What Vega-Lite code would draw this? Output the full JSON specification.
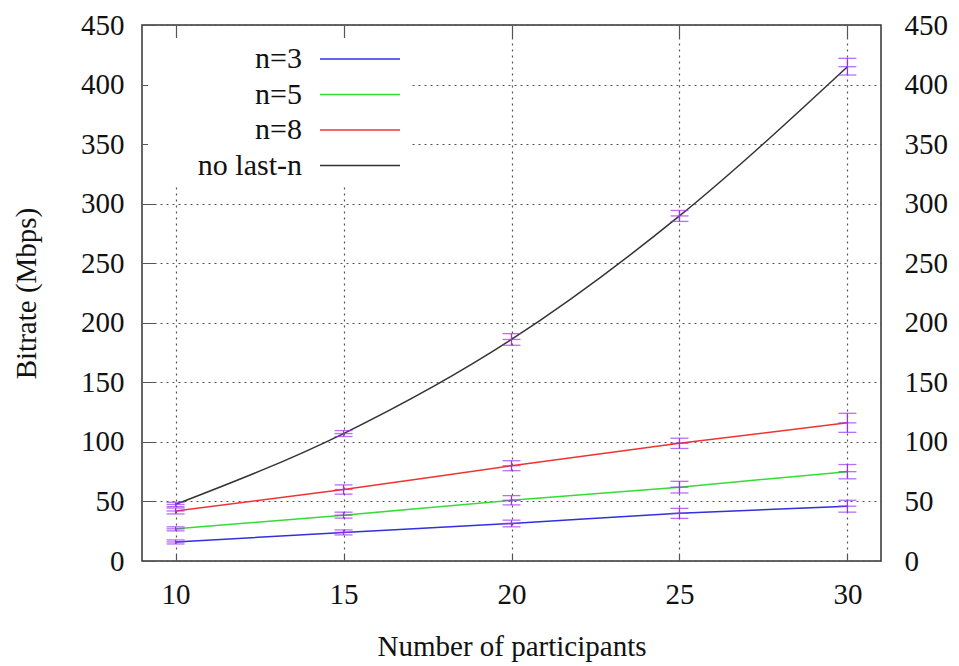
{
  "$schema": "https://vega.github.io/schema/vega-lite/v6.json",
  "autosize": {"type": "none"},
  "padding": {"left": 142, "top": 25, "right": 78, "bottom": 105},
  "width": 739,
  "height": 536,
  "background": "white",
  "config": {
    "font": "Liberation Serif",
    "view": {"stroke": "#333333", "strokeWidth": 1.5},
    "axis": {
      "labelFont": "Liberation Serif",
      "titleFont": "Liberation Serif",
      "labelFontSize": 29,
      "titleFontSize": 29,
      "titleFontWeight": "normal",
      "labelColor": "#111111",
      "titleColor": "#111111",
      "domain": false,
      "ticks": false,
      "gridOpacity": 1
    },
    "legend": {"labelFont": "Liberation Serif"}
  },
  "data": {
    "values": [
      {"series": "n=3", "x": 10, "y": 16, "lo": 14.3, "hi": 17.7},
      {"series": "n=3", "x": 15, "y": 24, "lo": 21.9, "hi": 26.1},
      {"series": "n=3", "x": 20, "y": 31.5, "lo": 28.7, "hi": 34.3},
      {"series": "n=3", "x": 25, "y": 40, "lo": 35.8, "hi": 44.2},
      {"series": "n=3", "x": 30, "y": 46, "lo": 41, "hi": 51},
      {"series": "n=5", "x": 10, "y": 27, "lo": 25.3, "hi": 28.7},
      {"series": "n=5", "x": 15, "y": 38.5, "lo": 36, "hi": 41},
      {"series": "n=5", "x": 20, "y": 51, "lo": 47.1, "hi": 54.9},
      {"series": "n=5", "x": 25, "y": 62, "lo": 57.1, "hi": 66.9},
      {"series": "n=5", "x": 30, "y": 75, "lo": 69, "hi": 81},
      {"series": "n=8", "x": 10, "y": 42, "lo": 39.5, "hi": 44.5},
      {"series": "n=8", "x": 15, "y": 60, "lo": 56.1, "hi": 63.9},
      {"series": "n=8", "x": 20, "y": 80, "lo": 75.8, "hi": 84.2},
      {"series": "n=8", "x": 25, "y": 98.8, "lo": 94.5, "hi": 103.1},
      {"series": "n=8", "x": 30, "y": 116, "lo": 108, "hi": 124},
      {"series": "no last-n", "x": 10, "y": 47.5, "lo": 45.7, "hi": 49.3},
      {"series": "no last-n", "x": 15, "y": 107, "lo": 104.5, "hi": 109.5},
      {"series": "no last-n", "x": 20, "y": 186, "lo": 181.1, "hi": 190.9},
      {"series": "no last-n", "x": 25, "y": 289.7, "lo": 285.1, "hi": 294.3},
      {"series": "no last-n", "x": 30, "y": 415, "lo": 408, "hi": 422}
    ]
  },
  "encoding": {
    "x": {"field": "x", "type": "quantitative", "scale": {"domain": [9, 31], "nice": false, "zero": false}, "axis": null}
  },
  "layer": [
    {
      "mark": {"type": "rule", "opacity": 0},
      "encoding": {
        "x": {"field": "x", "type": "quantitative", "scale": {"domain": [9, 31], "nice": false, "zero": false},
          "axis": {"orient": "bottom", "title": null, "values": [10, 15, 20, 25, 30], "grid": true, "labels": false, "gridColor": "#555555", "gridWidth": 1.2,
            "gridDash": [14,4,2,4,2,4,2,4,2,4,2,4,2,4,2,4,2,4,2,4,2,4,2,4,2,4,2,4,2,4,2,4,2,4,2,4,2,4,2,4,2,4,2,4,2,4,2,4,2,4,2,4,2,4,2,4,2,4,2,4,2,4,2,4,2,4,2,4,2,4,2,4,2,4,2,4,2,4,2,4,2,4,2,4,2,4,2,4,2,4,2,4,2,4,2,4,2,4,2,4,2,4,2,4,2,4,2,4,2,4,2,4,2,4,2,4,2,4,2,4,2,4,2,4,2,4,2,4,2,4,2,4,2,4,2,4,2,4,2,4,2,4,2,4,2,4,2,4,2,4,2,4,2,4,2,4,2,4,2,4,2,4,2,4,2,4,2,4,2,4,2,4,14,3000]}},
        "y": {"field": "y", "type": "quantitative", "scale": {"domain": [0, 450], "nice": false},
          "axis": {"orient": "left", "title": null, "values": [0, 50, 100, 150, 200, 250, 300, 350, 400, 450], "grid": true, "labels": false, "gridColor": "#555555", "gridWidth": 1.2,
            "gridDash": [14,4,2,4,2,4,2,4,2,4,2,4,2,4,2,4,2,4,2,4,2,4,2,4,2,4,2,4,2,4,2,4,2,4,2,4,2,4,2,4,2,4,2,4,2,4,2,4,2,4,2,4,2,4,2,4,2,4,2,4,2,4,2,4,2,4,2,4,2,4,2,4,2,4,2,4,2,4,2,4,2,4,2,4,2,4,2,4,2,4,2,4,2,4,2,4,2,4,2,4,2,4,2,4,2,4,2,4,2,4,2,4,2,4,2,4,2,4,2,4,2,4,2,4,2,4,2,4,2,4,2,4,2,4,2,4,2,4,2,4,2,4,2,4,2,4,2,4,2,4,2,4,2,4,2,4,2,4,2,4,2,4,2,4,2,4,2,4,2,4,2,4,2,4,2,4,2,4,2,4,2,4,2,4,2,4,2,4,2,4,2,4,2,4,2,4,2,4,2,4,2,4,2,4,2,4,2,4,2,4,2,4,2,4,2,4,2,4,2,4,2,4,2,4,2,4,2,4,2,4,2,4,2,4,2,4,2,4,2,4,2,4,2,4,2,9,14,3000]}}
      }
    },
    {
      "mark": {"type": "rule", "opacity": 0},
      "encoding": {
        "x": {"field": "x", "type": "quantitative", "scale": {"domain": [9, 31], "nice": false, "zero": false},
          "axis": {"orient": "bottom", "title": "Number of participants", "values": [10, 15, 20, 25, 30], "grid": false, "labelPadding": 19, "titlePadding": 23}},
        "y": {"field": "y", "type": "quantitative", "scale": {"domain": [0, 450], "nice": false},
          "axis": {"orient": "left", "title": "Bitrate (Mbps)", "values": [0, 50, 100, 150, 200, 250, 300, 350, 400, 450], "grid": false, "labelPadding": 18, "titlePadding": 39}}
      }
    },
    {
      "mark": {"type": "rule", "opacity": 0},
      "encoding": {
        "x": {"field": "x", "type": "quantitative", "scale": {"domain": [9, 31], "nice": false, "zero": false},
          "axis": {"orient": "top", "title": null, "values": [10, 15, 20, 25, 30], "grid": false, "labels": false}},
        "y": {"field": "y", "type": "quantitative", "scale": {"domain": [0, 450], "nice": false},
          "axis": {"orient": "right", "title": null, "values": [0, 50, 100, 150, 200, 250, 300, 350, 400, 450], "grid": false, "labelPadding": 23}}
      }
    },
    {
      "mark": {"type": "line", "strokeWidth": 1.5, "interpolate": "monotone"},
      "encoding": {
        "y": {"field": "y", "type": "quantitative", "scale": {"domain": [0, 450], "nice": false}, "axis": null},
        "color": {
          "field": "series", "type": "nominal",
          "scale": {"domain": ["n=3", "n=5", "n=8", "no last-n"], "range": ["#3030dd", "#33dd33", "#ee3333", "#333333"]},
          "legend": {
            "title": null,
            "orient": "none",
            "legendX": 6,
            "legendY": 13,
            "fillColor": "white",
            "strokeColor": null,
            "padding": 6,
            "symbolType": "M-4,0H4",
            "symbolSize": 400,
            "symbolStrokeWidth": 1.5,
            "rowPadding": 5.5,
            "labelFontSize": 30,
            "labelColor": "#111111",
            "labelLimit": 400,
            "encode": {
              "labels": {"update": {"x": {"value": 148}, "align": {"value": "right"}}},
              "symbols": {"update": {"x": {"value": 206}}}
            }
          }
        }
      }
    },
    {
      "mark": {"type": "rule", "color": "#9933ee", "strokeWidth": 1.3},
      "encoding": {
        "y": {"field": "lo", "type": "quantitative", "scale": {"domain": [0, 450], "nice": false}, "axis": null},
        "y2": {"field": "hi"}
      }
    },
    {
      "mark": {"type": "tick", "color": "#9933ee", "orient": "horizontal", "size": 18, "thickness": 1.3},
      "encoding": {"y": {"field": "lo", "type": "quantitative", "scale": {"domain": [0, 450], "nice": false}, "axis": null}}
    },
    {
      "mark": {"type": "tick", "color": "#9933ee", "orient": "horizontal", "size": 18, "thickness": 1.3},
      "encoding": {"y": {"field": "hi", "type": "quantitative", "scale": {"domain": [0, 450], "nice": false}, "axis": null}}
    },
    {
      "mark": {"type": "tick", "color": "#9933ee", "orient": "horizontal", "size": 18, "thickness": 1.3},
      "encoding": {"y": {"field": "y", "type": "quantitative", "scale": {"domain": [0, 450], "nice": false}, "axis": null}}
    }
  ],
  "resolve": {"axis": {"x": "independent", "y": "independent"}}
}
